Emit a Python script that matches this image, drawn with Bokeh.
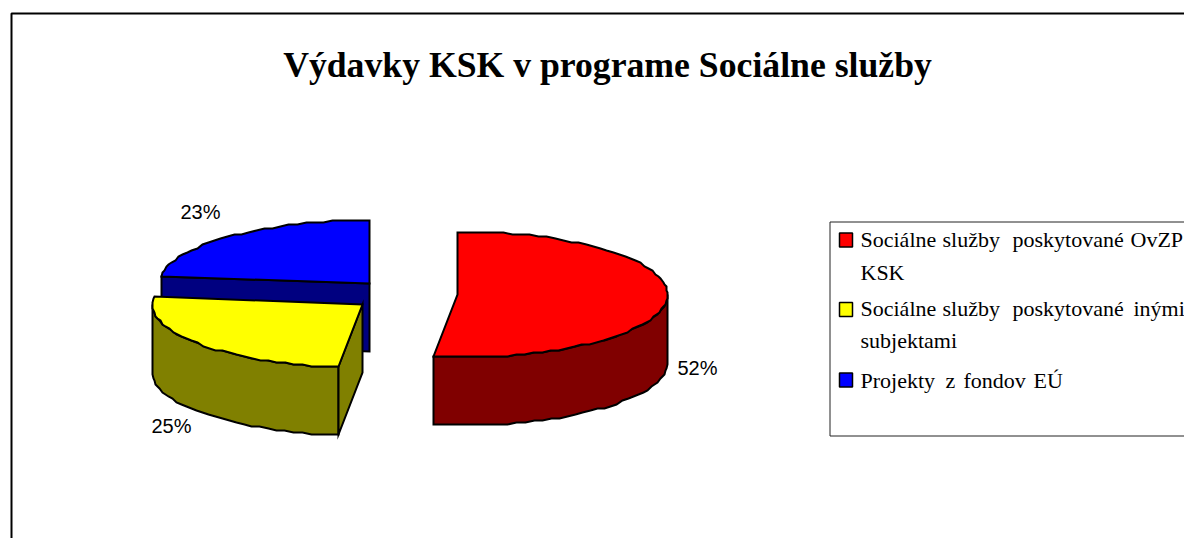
import math
from bokeh.plotting import figure
from bokeh.models import Range1d
from bokeh.core.properties import value
from bokeh.embed import file_html
from bokeh.resources import INLINE

title = "Výdavky KSK v programe Sociálne služby"
categories = ["Sociálne služby poskytované OvZP KSK", "Sociálne služby poskytované inými subjektami", "Projekty z fondov EÚ"]
values = [51.8, 25.2, 23]
labels = ["52%", "25%", "23%"]
top_colors = ["#FF0000", "#FFFF00", "#0000FF"]
side_colors = ["#800000", "#808000", "#000080"]

# layout constants (pixel space)
W, H = 1184, 538
centers = [(457, 294), (362, 304), (369, 283)]
RX, RY, DEPTH = 210, 63, 68
label_pos = [(697, 367), (171, 425), (200, 211)]

p = figure(width=W, height=H, output_backend="svg", toolbar_location=None,
           x_range=Range1d(0, W), y_range=Range1d(H, 0),
           min_border=0, outline_line_color=None)
p.axis.visible = False
p.grid.visible = False
p.background_fill_color = "white"

def pt(c, a, dz=0):
    r = math.radians(a)
    return (round(c[0] + RX * math.sin(r)), round((c[1] - RY * math.cos(r) + dz) / 2) * 2)

def arc(c, a0, a1, dz=0):
    n = max(2, int(abs(a1 - a0) / 2.5))
    return [pt(c, a0 + (a1 - a0) * i / n, dz) for i in range(n + 1)]

def draw(points, fill):
    p.patch([q[0] for q in points], [q[1] for q in points], fill_color=fill,
            line_color="black", line_width=2, line_join="miter")

total = sum(values)
spans = []
acc = 0
for v in values:
    spans.append((acc / total * 360, (acc + v) / total * 360))
    acc += v

# outer chart frame (runs off the right and bottom of the picture)
p.line([11, 11, W + 5], [H + 5, 13, 13], line_color="black", line_width=2)

for i in [2, 1, 0]:
    c = centers[i]
    a0, a1 = spans[i]
    low, high = max(a0, 90), min(a1, 270)
    if low < high:
        rim = arc(c, low, high)
        draw(rim + [(x, y + DEPTH) for x, y in reversed(rim)], side_colors[i])
    if math.sin(math.radians(a0)) < 0:
        e = pt(c, a0)
        draw([c, e, (e[0], e[1] + DEPTH), (c[0], c[1] + DEPTH)], side_colors[i])
    if math.sin(math.radians(a1)) > 0:
        e = pt(c, a1)
        draw([c, e, (e[0], e[1] + DEPTH), (c[0], c[1] + DEPTH)], side_colors[i])
    draw([c] + arc(c, a0, a1), top_colors[i])

p.text([607], [64], text=[title], text_font=value("Liberation Serif"), text_font_style="bold",
       text_font_size="35.7px", text_align="center", text_baseline="middle", text_color="black")

p.text([q[0] for q in label_pos], [q[1] for q in label_pos], text=labels,
       text_font=value("Liberation Sans"), text_font_size="20px", text_align="center",
       text_baseline="middle", text_color="black")

# legend
p.quad(left=[829.5], right=[W + 5], top=[221.5], bottom=[435.5], fill_color="white",
       line_color="#222222", line_width=1)
swatch_y = [239.5, 309, 379.5]
for y, col in zip(swatch_y, top_colors):
    p.quad(left=[839], right=[852], top=[y - 7], bottom=[y + 7], fill_color=col,
           line_color="black", line_width=1.5)
leg_words = ["Sociálne", "služby", "poskytované", "OvZP", "KSK", "Sociálne", "služby", "poskytované", "inými",
             "subjektami", "Projekty", "z", "fondov", "EÚ"]
leg_x = [860, 942, 1012, 1130, 860, 860, 942, 1012, 1133, 860, 860, 945, 963, 1033]
leg_y = [239, 239, 239, 239, 272, 308, 308, 308, 308, 340, 380, 380, 380, 380]
p.text(leg_x, leg_y, text=leg_words, text_font=value("Liberation Serif"), text_font_size="22px",
       text_align="left", text_baseline="middle", text_color="black")

open("out.html", "w").write(file_html(p, INLINE))
